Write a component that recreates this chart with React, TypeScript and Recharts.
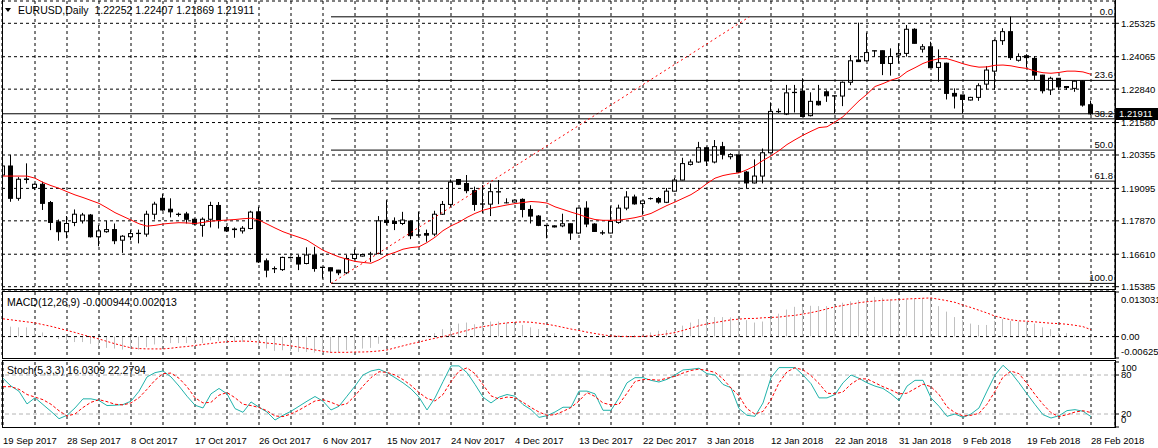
import React from 'react'
import { ComposedChart, Bar, Line, XAxis, YAxis, CartesianGrid, ReferenceLine } from 'recharts'

const FONT = "'Liberation Sans', Arial, sans-serif"
const FS = 9.5
const CAPTION_FS = 10.5

// x-axis date labels, one every 8 daily bars
const dateLabels = [
    '19 Sep 2017', '28 Sep 2017', '8 Oct 2017', '17 Oct 2017', '26 Oct 2017', '6 Nov 2017',
    '15 Nov 2017', '24 Nov 2017', '4 Dec 2017', '13 Dec 2017', '22 Dec 2017', '3 Jan 2018',
    '12 Jan 2018', '22 Jan 2018', '31 Jan 2018', '9 Feb 2018', '19 Feb 2018', '28 Feb 2018',
]

const priceTicks = [1.25325, 1.24065, 1.2284, 1.2158, 1.20355, 1.19095, 1.1787, 1.1661, 1.15385]
const macdTicks = [0.013031, 0, -0.006256]
const stochTicks = [100, 80, 20, 0]

const opens = [
    1.1960, 1.1994, 1.1872, 1.1945, 1.1913, 1.1925, 1.1856, 1.1783, 1.1746, 1.1781,
    1.1787, 1.1809, 1.1727, 1.1746, 1.1754, 1.1714, 1.1727, 1.1740, 1.1737, 1.1812,
    1.1872, 1.1831, 1.1812, 1.1813, 1.1793, 1.1770, 1.1793, 1.1845, 1.1762, 1.1756,
    1.1749, 1.1758, 1.1821, 1.1636, 1.1607, 1.1603, 1.1648, 1.1649, 1.1626, 1.1658,
    1.1612, 1.1610, 1.1601, 1.1591, 1.1645, 1.1654, 1.1661, 1.1664, 1.1789, 1.1785,
    1.1777, 1.1786, 1.1734, 1.1739, 1.1737, 1.1812, 1.1849, 1.1943, 1.1928, 1.1901,
    1.1851, 1.1850, 1.1896, 1.1855, 1.1858, 1.1868, 1.1830, 1.1805, 1.1770, 1.1768,
    1.1768, 1.1776, 1.1741, 1.1835, 1.1775, 1.1742, 1.1741, 1.1781, 1.1835, 1.1877,
    1.1852, 1.1871, 1.1871, 1.1857, 1.1899, 1.1941, 1.2000, 1.2009, 1.2063, 1.2009,
    1.2067, 1.2029, 1.2036, 1.1971, 1.1930, 1.1956, 1.2044, 1.2199, 1.2190, 1.2272,
    1.2277, 1.2184, 1.2238, 1.2274, 1.2259, 1.2258, 1.2310, 1.2394, 1.2391, 1.2429,
    1.2429, 1.2381, 1.2413, 1.2419, 1.2510, 1.2435, 1.2444, 1.2366, 1.2382, 1.2268,
    1.2262, 1.2243, 1.2253, 1.2303, 1.2352, 1.2467, 1.2501, 1.2393, 1.2410, 1.2400,
    1.2337, 1.2281, 1.2325, 1.2294, 1.2287, 1.2314, 1.22252,
]
const highs = [
    1.2004, 1.2036, 1.1952, 1.2004, 1.1928, 1.1935, 1.1862, 1.1792, 1.1805, 1.1830,
    1.1817, 1.1813, 1.1771, 1.1787, 1.1777, 1.1733, 1.1752, 1.1754, 1.1825, 1.1859,
    1.1888, 1.1872, 1.1818, 1.1821, 1.1796, 1.1800, 1.1859, 1.1858, 1.1767, 1.1762,
    1.1767, 1.1825, 1.1840, 1.1645, 1.1615, 1.1652, 1.1652, 1.1658, 1.1687, 1.1689,
    1.1613, 1.1611, 1.1602, 1.1658, 1.1679, 1.1663, 1.1670, 1.1805, 1.1865, 1.1800,
    1.1821, 1.1788, 1.1821, 1.1754, 1.1825, 1.1862, 1.1943, 1.1945, 1.1960, 1.1916,
    1.1922, 1.1928, 1.1941, 1.1872, 1.1868, 1.1872, 1.1846, 1.1809, 1.1771, 1.1770,
    1.1814, 1.1777, 1.1836, 1.1861, 1.1778, 1.1751, 1.1842, 1.1848, 1.1899, 1.1886,
    1.1863, 1.1875, 1.1877, 1.1911, 1.1949, 1.2025, 1.2019, 1.2085, 1.2067, 1.2092,
    1.2085, 1.2042, 1.2037, 1.1975, 1.2019, 1.2060, 1.2234, 1.2211, 1.2300, 1.2300,
    1.2325, 1.2272, 1.2300, 1.2280, 1.2260, 1.2313, 1.2413, 1.2535, 1.2497, 1.2430,
    1.2430, 1.2438, 1.2457, 1.2526, 1.2514, 1.2454, 1.2463, 1.2434, 1.2384, 1.2287,
    1.2262, 1.2255, 1.2306, 1.2371, 1.2472, 1.2514, 1.2558, 1.2419, 1.2416, 1.2409,
    1.2338, 1.2331, 1.2326, 1.2296, 1.2318, 1.2318, 1.22407,
]
const lows = [
    1.1954, 1.1859, 1.1863, 1.1928, 1.1903, 1.1828, 1.1752, 1.1712, 1.1721, 1.1767,
    1.1777, 1.1724, 1.1691, 1.1742, 1.1699, 1.1666, 1.1714, 1.1702, 1.1727, 1.1792,
    1.1825, 1.1800, 1.1803, 1.1777, 1.1771, 1.1727, 1.1762, 1.1758, 1.1745, 1.1723,
    1.1739, 1.1755, 1.1628, 1.1574, 1.1590, 1.1598, 1.1645, 1.1601, 1.1623, 1.1595,
    1.1569, 1.1553, 1.1582, 1.1586, 1.1641, 1.1652, 1.1632, 1.1661, 1.1771, 1.1752,
    1.1771, 1.1718, 1.1727, 1.1708, 1.1729, 1.1809, 1.1840, 1.1922, 1.1891, 1.1825,
    1.1817, 1.1805, 1.1850, 1.1853, 1.1856, 1.1800, 1.1777, 1.1767, 1.1721, 1.1762,
    1.1763, 1.1715, 1.1738, 1.1763, 1.1745, 1.1734, 1.1740, 1.1776, 1.1827, 1.1848,
    1.1810, 1.1867, 1.1852, 1.1854, 1.1898, 1.1940, 1.1996, 1.2006, 1.1994, 1.2004,
    1.2019, 1.2019, 1.1968, 1.1911, 1.1928, 1.1928, 1.2042, 1.2194, 1.2186, 1.2196,
    1.2180, 1.2181, 1.2222, 1.2236, 1.2192, 1.2220, 1.2299, 1.2387, 1.2388, 1.2406,
    1.2337, 1.2335, 1.2381, 1.2407, 1.2456, 1.2422, 1.2365, 1.2312, 1.2245, 1.2211,
    1.2192, 1.2241, 1.2240, 1.2283, 1.2281, 1.2451, 1.2394, 1.2388, 1.2366, 1.2318,
    1.2268, 1.2262, 1.2281, 1.2281, 1.2274, 1.2218, 1.21869,
]
const closes = [
    1.1994, 1.1872, 1.1944, 1.1943, 1.1925, 1.1853, 1.1781, 1.1746, 1.1777, 1.1812,
    1.1809, 1.1727, 1.1749, 1.1754, 1.1712, 1.1729, 1.1739, 1.1739, 1.1812, 1.1850,
    1.1828, 1.1821, 1.1811, 1.1793, 1.1775, 1.1793, 1.1845, 1.1790, 1.1749, 1.1754,
    1.1759, 1.1820, 1.1632, 1.1601, 1.1606, 1.1649, 1.1649, 1.1624, 1.1658, 1.1607,
    1.1611, 1.1598, 1.1591, 1.1645, 1.1660, 1.1660, 1.1662, 1.1787, 1.1781, 1.1777,
    1.1790, 1.1731, 1.1733, 1.1733, 1.1812, 1.1849, 1.1933, 1.1925, 1.1901, 1.1849,
    1.1850, 1.1897, 1.1897, 1.1855, 1.1865, 1.1830, 1.1805, 1.1770, 1.1769, 1.1764,
    1.1776, 1.1741, 1.1835, 1.1775, 1.1747, 1.1741, 1.1785, 1.1835, 1.1877, 1.1851,
    1.1862, 1.1871, 1.1858, 1.1899, 1.1941, 1.2003, 1.2009, 1.2063, 1.2013, 1.2067,
    1.2038, 1.2037, 1.1971, 1.1930, 1.1956, 1.2044, 1.2200, 1.2200, 1.2270, 1.2271,
    1.2181, 1.2238, 1.2225, 1.2259, 1.2258, 1.2310, 1.2391, 1.2388, 1.2422, 1.2428,
    1.2381, 1.2407, 1.2419, 1.2510, 1.2457, 1.2444, 1.2365, 1.2384, 1.2268, 1.2258,
    1.2245, 1.2253, 1.2297, 1.2356, 1.2467, 1.2501, 1.2403, 1.2407, 1.2403, 1.2337,
    1.2278, 1.2325, 1.2293, 1.2290, 1.2314, 1.2224, 1.21911,
]
const movingAverage = [
    1.1956, 1.1956, 1.1956, 1.1956, 1.1948, 1.1932, 1.1920, 1.1910, 1.1897, 1.1885,
    1.1875, 1.1864, 1.1853, 1.1836, 1.1818, 1.1804, 1.1790, 1.1776, 1.1767, 1.1770,
    1.1775, 1.1778, 1.1780, 1.1779, 1.1777, 1.1781, 1.1786, 1.1788, 1.1790, 1.1792,
    1.1795, 1.1797, 1.1790, 1.1775, 1.1760, 1.1746, 1.1735, 1.1725, 1.1714, 1.1695,
    1.1676, 1.1663, 1.1651, 1.1642, 1.1634, 1.1630, 1.1627, 1.1640, 1.1658, 1.1668,
    1.1680, 1.1686, 1.1689, 1.1705, 1.1725, 1.1750, 1.1768, 1.1782, 1.1800, 1.1815,
    1.1827, 1.1835, 1.1841, 1.1847, 1.1852, 1.1856, 1.1860, 1.1858, 1.1854, 1.1840,
    1.1830, 1.1820, 1.1811, 1.1800, 1.1792, 1.1789, 1.1789, 1.1790, 1.1794, 1.1799,
    1.1806, 1.1815, 1.1830, 1.1845, 1.1858, 1.1872, 1.1886, 1.1905, 1.1928, 1.1948,
    1.1958, 1.1964, 1.1968, 1.1980, 1.1995, 1.2015, 1.2032, 1.2052, 1.2075, 1.2093,
    1.2110, 1.2125, 1.2139, 1.2142, 1.2160, 1.2180, 1.2210, 1.2240, 1.2265, 1.2294,
    1.2305, 1.2318, 1.2327, 1.2350, 1.2365, 1.2381, 1.2392, 1.2399, 1.2399, 1.2390,
    1.2380, 1.2372, 1.2367, 1.2368, 1.2374, 1.2375, 1.2372, 1.2366, 1.2362, 1.2352,
    1.2346, 1.2344, 1.2347, 1.2352, 1.2352, 1.2349, 1.2340,
]
const macdMain = [
    0.0038, 0.0029, 0.0027, 0.0027, 0.0019, 0.0012, 0.0000, -0.0007, -0.0013, -0.0016,
    -0.0016, -0.0021, -0.0026, -0.0033, -0.0035, -0.0038, -0.0036, -0.0038, -0.0031, -0.0023,
    -0.0021, -0.0019, -0.0019, -0.0019, -0.0021, -0.0019, -0.0011, -0.0013, -0.0014, -0.0016,
    -0.0016, -0.0011, -0.0026, -0.0035, -0.0042, -0.0040, -0.0042, -0.0045, -0.0045, -0.0047,
    -0.0048, -0.0048, -0.0045, -0.0040, -0.0038, -0.0035, -0.0033, -0.0021, -0.0012, -0.0007,
    -0.0003, -0.0002, -0.0001, 0.0003, 0.0010, 0.0022, 0.0032, 0.0038, 0.0041, 0.0036,
    0.0038, 0.0044, 0.0044, 0.0041, 0.0038, 0.0034, 0.0027, 0.0022, 0.0008, 0.0010,
    0.0002, -0.0002, 0.0001, 0.0001, -0.0001, -0.0003, -0.0002, 0.0001, 0.0004, 0.0005,
    0.0008, 0.0012, 0.0017, 0.0019, 0.0022, 0.0032, 0.0041, 0.0051, 0.0054, 0.0057,
    0.0057, 0.0056, 0.0051, 0.0048, 0.0041, 0.0044, 0.0052, 0.0067, 0.0079, 0.0087,
    0.0087, 0.0090, 0.0089, 0.0089, 0.0092, 0.0099, 0.0103, 0.0107, 0.0113, 0.0116,
    0.0113, 0.0109, 0.0108, 0.0108, 0.0110, 0.0113, 0.0105, 0.0089, 0.0073, 0.0057,
    0.0048, 0.0038, 0.0034, 0.0034, 0.0046, 0.0051, 0.0046, 0.0044, 0.0044, 0.0038,
    0.0027, 0.0022, 0.0012, 0.0010, 0.0003, -0.0002, -0.000944,
]
const macdSignal = [
    0.0052, 0.0049, 0.0046, 0.0043, 0.0040, 0.0035, 0.0030, 0.0024, 0.0018, 0.0012,
    0.0005, -0.0001, -0.0007, -0.0014, -0.0021, -0.0027, -0.0033, -0.0035, -0.0036, -0.0036,
    -0.0036, -0.0034, -0.0031, -0.0029, -0.0026, -0.0023, -0.0020, -0.0017, -0.0015, -0.0014,
    -0.0013, -0.0014, -0.0016, -0.0019, -0.0021, -0.0024, -0.0027, -0.0031, -0.0035, -0.0039,
    -0.0043, -0.0046, -0.0046, -0.0046, -0.0045, -0.0045, -0.0044, -0.0042, -0.0039, -0.0033,
    -0.0027, -0.0021, -0.0016, -0.0010, -0.0005, 0.0000, 0.0006, 0.0012, 0.0018, 0.0025,
    0.0029, 0.0033, 0.0037, 0.0040, 0.0042, 0.0043, 0.0042, 0.0039, 0.0036, 0.0032,
    0.0027, 0.0022, 0.0018, 0.0013, 0.0009, 0.0005, 0.0002, 0.0001, 0.0000, 0.0000,
    0.0001, 0.0002, 0.0005, 0.0008, 0.0012, 0.0018, 0.0025, 0.0032, 0.0037, 0.0041,
    0.0045, 0.0049, 0.0051, 0.0053, 0.0053, 0.0055, 0.0056, 0.0057, 0.0060, 0.0062,
    0.0066, 0.0070, 0.0075, 0.0081, 0.0087, 0.0091, 0.0095, 0.0099, 0.0102, 0.0104,
    0.0106, 0.0107, 0.0108, 0.0110, 0.0111, 0.0112, 0.0113, 0.0109, 0.0105, 0.0100,
    0.0092, 0.0085, 0.0077, 0.0069, 0.0060, 0.0054, 0.0049, 0.0046, 0.0045, 0.0043,
    0.0041, 0.0039, 0.0038, 0.0036, 0.0033, 0.0029, 0.002013,
]
const stochMain = [
    74.9, 63, 55, 35.5, 45, 34.5, 24, 12.8, 18, 29.3,
    43.3, 43.3, 40.7, 33, 33.5, 34.5, 39.7, 55, 77, 83.6,
    86.2, 77, 63, 47.4, 33.5, 29.3, 51, 59.3, 51, 28.3,
    22.6, 38.6, 30.4, 23.1, 10.7, 18, 24.2, 31.9, 39.7, 46.9,
    39.7, 26.2, 31.9, 47.4, 63, 80, 86.2, 88.8, 83.6, 75.9,
    68, 58.7, 45.9, 26.2, 44.8, 69.7, 94, 94, 83.6, 65.5,
    45.9, 37, 45.9, 50, 47.4, 34.5, 26.7, 14.8, 17.4, 23.1,
    30.4, 30.4, 55.2, 55.2, 51, 25.7, 25.7, 44.8, 68, 75.9,
    75.9, 71.8, 69.2, 73.3, 80, 87.8, 88.8, 90.4, 82, 80,
    65.5, 60.4, 28.3, 18, 16.4, 37, 75.9, 91.4, 91.4, 91.4,
    80, 66.6, 44.8, 44.8, 50, 68, 80, 74.9, 68, 62.9,
    59.3, 51, 40.7, 62.9, 71.8, 71.8, 44.8, 31.9, 16.4, 20,
    14.8, 20, 29.3, 55.2, 80, 95, 83.6, 68, 51, 34.5,
    19, 13.8, 17.4, 25.2, 26.7, 24.2, 16.0309,
]
const stochSignal = [
    62, 62, 58, 50, 46, 42, 35, 25, 17, 20,
    30, 38, 42, 39, 35, 34, 37, 45, 58, 72,
    82, 83, 75, 62, 45, 37, 38, 49, 53, 45,
    35, 33, 30, 25, 17, 16, 20, 26, 33, 40,
    42, 38, 33, 36, 48, 63, 76, 85, 84, 80,
    73, 64, 53, 44, 40, 50, 70, 86, 91, 82,
    65, 48, 43, 46, 45, 38, 30, 23, 18, 19,
    24, 30, 40, 53, 47, 37, 34, 35, 52, 70,
    73, 73, 72, 75, 78, 83, 87, 89, 87, 84,
    74, 60, 48, 28, 20, 24, 42, 68, 85, 91,
    88, 79, 67, 52, 51, 54, 66, 74, 74, 68,
    62, 57, 51, 52, 59, 66, 62, 50, 31, 22,
    17, 18, 21, 35, 55, 77, 86, 82, 67, 50,
    35, 22, 16, 19, 23, 25, 22.2794,
]

// Fibonacci retracement levels
const fibLevels = [
    { label: '0.0', price: 1.2557 },
    { label: '23.6', price: 1.2317 },
    { label: '38.2', price: 1.2172 },
    { label: '50.0', price: 1.2054 },
    { label: '61.8', price: 1.1937 },
    { label: '100.0', price: 1.1551 },
]
const fibStartBar = 41
const fibEndBar = 93.3
const bidPrice = 1.21911

const data = opens.map((o, i) => ({
    i,
    o,
    h: highs[i],
    l: lows[i],
    c: closes[i],
    ma: movingAverage[i],
    macd: macdMain[i],
    signal: macdSignal[i],
    k: stochMain[i],
    d: stochSignal[i],
}))

const xDomain = [-0.125, 139]
const gridTicks = data.filter((d) => d.i % 4 === 0).map((d) => d.i)

function Candle(props: any) {
    const { x, y, width, height, payload } = props
    const cx = Math.floor(x + width / 2 + 0.01) + 0.5
    const span = payload.h - payload.l || 1e-9
    const py = (p: number) => y + ((payload.h - p) / span) * height
    const top = py(Math.max(payload.o, payload.c))
    const bot = py(Math.min(payload.o, payload.c))
    const up = payload.c >= payload.o
    return (
        <g>
            <line x1={cx} x2={cx} y1={y} y2={y + height} stroke="#000" />
            <rect x={cx - 2} y={top} width={4} height={Math.max(bot - top, 0.01)} fill={up ? '#fff' : '#000'} stroke="#000" />
        </g>
    )
}

function HistBar(props: any) {
    const { x, y, width, height } = props
    const cx = Math.floor(x + width / 2 + 0.01) + 0.5
    const top = Math.min(y, y + height)
    const bot = Math.max(y, y + height)
    return <line x1={cx} x2={cx} y1={top} y2={bot} stroke="#c0c0c0" />
}

function FibTag(props: any) {
    const { viewBox, text } = props
    if (!viewBox) return null
    return (
        <text x={viewBox.x + viewBox.width - 2} y={viewBox.y - 2} textAnchor="end" fontSize={FS} fontFamily={FONT} fill="#000">
            {text}
        </text>
    )
}

function MacdTick(props: any) {
    const { x, y, payload } = props
    const v = payload.value
    const shift = v > 0 ? 8 : v < 0 ? -6 : 0
    const txt = v === 0 ? '0.00' : v.toFixed(6)
    return (
        <text x={x} y={y + shift} dy="0.35em" fontSize={FS} fontFamily={FONT} fill="#000">
            {txt}
        </text>
    )
}

function StochTick(props: any) {
    const { x, y, payload } = props
    const v = payload.value
    const shift = v === 100 ? 6 : v === 0 ? -7 : 0
    return (
        <text x={x} y={y + shift} dy="0.35em" fontSize={FS} fontFamily={FONT} fill="#000">
            {v}
        </text>
    )
}

function DateTick(props: any) {
    const { x, y, payload } = props
    const v = payload.value as number
    if (v % 8 !== 0) return <g />
    return (
        <text x={x} y={y + 9} fontSize={FS} fontFamily={FONT} fill="#000">
            {dateLabels[v / 8]}
        </text>
    )
}

const frame = (top: number, height: number): React.CSSProperties => ({
    position: 'absolute',
    left: 2,
    top,
    width: 1114,
    height,
    boxSizing: 'border-box',
    border: '1px solid #000',
    pointerEvents: 'none',
})

const caption = (top: number, left: number): React.CSSProperties => ({
    position: 'absolute',
    left,
    top,
    fontFamily: FONT,
    fontSize: CAPTION_FS,
    color: '#000',
    whiteSpace: 'pre',
    lineHeight: '12px',
})

export default function App() {
    return (
        <div style={{ position: 'absolute', left: 0, top: 0, width: 1158, height: 448, background: '#fff', overflow: 'hidden' }}>
            {/* price panel */}
            <div style={{ position: 'absolute', left: 0, top: 0 }}>
                <ComposedChart width={1158} height={292} data={data} margin={{ top: 1, right: 0, bottom: 2, left: 2 }}>
                    <CartesianGrid stroke="#000" strokeDasharray="3 3" />
                    <XAxis dataKey="i" type="number" domain={xDomain} ticks={gridTicks} hide allowDataOverflow />
                    <YAxis
                        orientation="right"
                        width={43}
                        domain={[1.1526, 1.26167]}
                        ticks={priceTicks}
                        allowDataOverflow
                        interval={0}
                        tickSize={4}
                        tickMargin={2}
                        stroke="#000"
                        tickFormatter={(v: number) => v.toFixed(5)}
                        tick={{ fill: '#000', fontSize: FS, fontFamily: FONT }}
                    />
                    {fibLevels.map((f) => (
                        <ReferenceLine
                            key={f.label}
                            segment={[{ x: fibStartBar, y: f.price }, { x: 139, y: f.price }]}
                            stroke="#000"
                            label={<FibTag text={f.label} />}
                        />
                    ))}
                    <ReferenceLine
                        segment={[{ x: fibStartBar, y: fibLevels[5].price }, { x: fibEndBar, y: fibLevels[0].price }]}
                        stroke="#ff0000"
                        strokeDasharray="2 3"
                    />
                    <ReferenceLine y={bidPrice} stroke="#000" />
                    <Bar dataKey={(d: any) => [d.l, d.h]} barSize={5} shape={<Candle />} isAnimationActive={false} />
                    <Line dataKey="ma" type="linear" stroke="#ff0000" strokeWidth={1} dot={false} activeDot={false} isAnimationActive={false} />
                </ComposedChart>
            </div>

            {/* MACD panel */}
            <div style={{ position: 'absolute', left: 0, top: 291 }}>
                <ComposedChart width={1158} height={68} data={data} margin={{ top: 1, right: 0, bottom: 1, left: 2 }}>
                    <CartesianGrid stroke="#000" strokeDasharray="3 3" horizontal={false} />
                    <XAxis dataKey="i" type="number" domain={xDomain} ticks={gridTicks} hide allowDataOverflow />
                    <YAxis
                        orientation="right"
                        width={43}
                        domain={[-0.006256, 0.013031]}
                        ticks={macdTicks}
                        allowDataOverflow
                        interval={0}
                        tickSize={4}
                        tickMargin={2}
                        stroke="#000"
                        tick={<MacdTick />}
                    />
                    <ReferenceLine y={0} stroke="#000" strokeDasharray="3 3" />
                    <Bar dataKey="macd" barSize={3} shape={<HistBar />} isAnimationActive={false} />
                    <Line dataKey="signal" type="linear" stroke="#ff0000" strokeDasharray="2 2" dot={false} activeDot={false} isAnimationActive={false} />
                </ComposedChart>
            </div>

            {/* Stochastic panel */}
            <div style={{ position: 'absolute', left: 0, top: 360 }}>
                <ComposedChart width={1158} height={88} data={data} margin={{ top: 2, right: 0, bottom: 1, left: 2 }}>
                    <CartesianGrid stroke="#000" strokeDasharray="3 3" horizontal={false} />
                    <XAxis
                        dataKey="i"
                        type="number"
                        domain={xDomain}
                        ticks={gridTicks}
                        allowDataOverflow
                        interval={0}
                        height={20}
                        axisLine={false}
                        tickLine={false}
                        tick={<DateTick />}
                    />
                    <YAxis
                        orientation="right"
                        width={43}
                        domain={[0, 100]}
                        ticks={stochTicks}
                        interval={0}
                        tickSize={4}
                        tickMargin={2}
                        stroke="#000"
                        tick={<StochTick />}
                    />
                    <ReferenceLine y={80} stroke="#b4b4b4" strokeDasharray="4 3" />
                    <ReferenceLine y={20} stroke="#b4b4b4" strokeDasharray="4 3" />
                    <Line dataKey="k" type="linear" stroke="#20b2aa" dot={false} activeDot={false} isAnimationActive={false} />
                    <Line dataKey="d" type="linear" stroke="#ff0000" strokeDasharray="3 2" dot={false} activeDot={false} isAnimationActive={false} />
                </ComposedChart>
            </div>

            <div style={frame(-1, 291)} />
            <div style={frame(291, 68)} />
            <div style={frame(360, 68)} />

            <svg style={{ position: 'absolute', left: 5, top: 8 }} width={6} height={5}>
                <polygon points="0,0 6,0 3,4" fill="#000" />
            </svg>
            <div style={caption(4, 18)}>EURUSD,Daily  1.22252 1.22407 1.21869 1.21911</div>
            <div style={caption(296, 7)}>MACD(12,26,9) -0.000944 0.002013</div>
            <div style={caption(364, 7)}>Stoch(5,3,3) 16.0309 22.2794</div>

            <div
                style={{
                    position: 'absolute',
                    left: 1116,
                    top: 108,
                    width: 42,
                    height: 12,
                    background: '#000',
                    color: '#fff',
                    fontFamily: FONT,
                    fontSize: FS,
                    lineHeight: '12px',
                    paddingLeft: 3,
                    boxSizing: 'border-box',
                }}
            >
                1.21911
            </div>
        </div>
    )
}
